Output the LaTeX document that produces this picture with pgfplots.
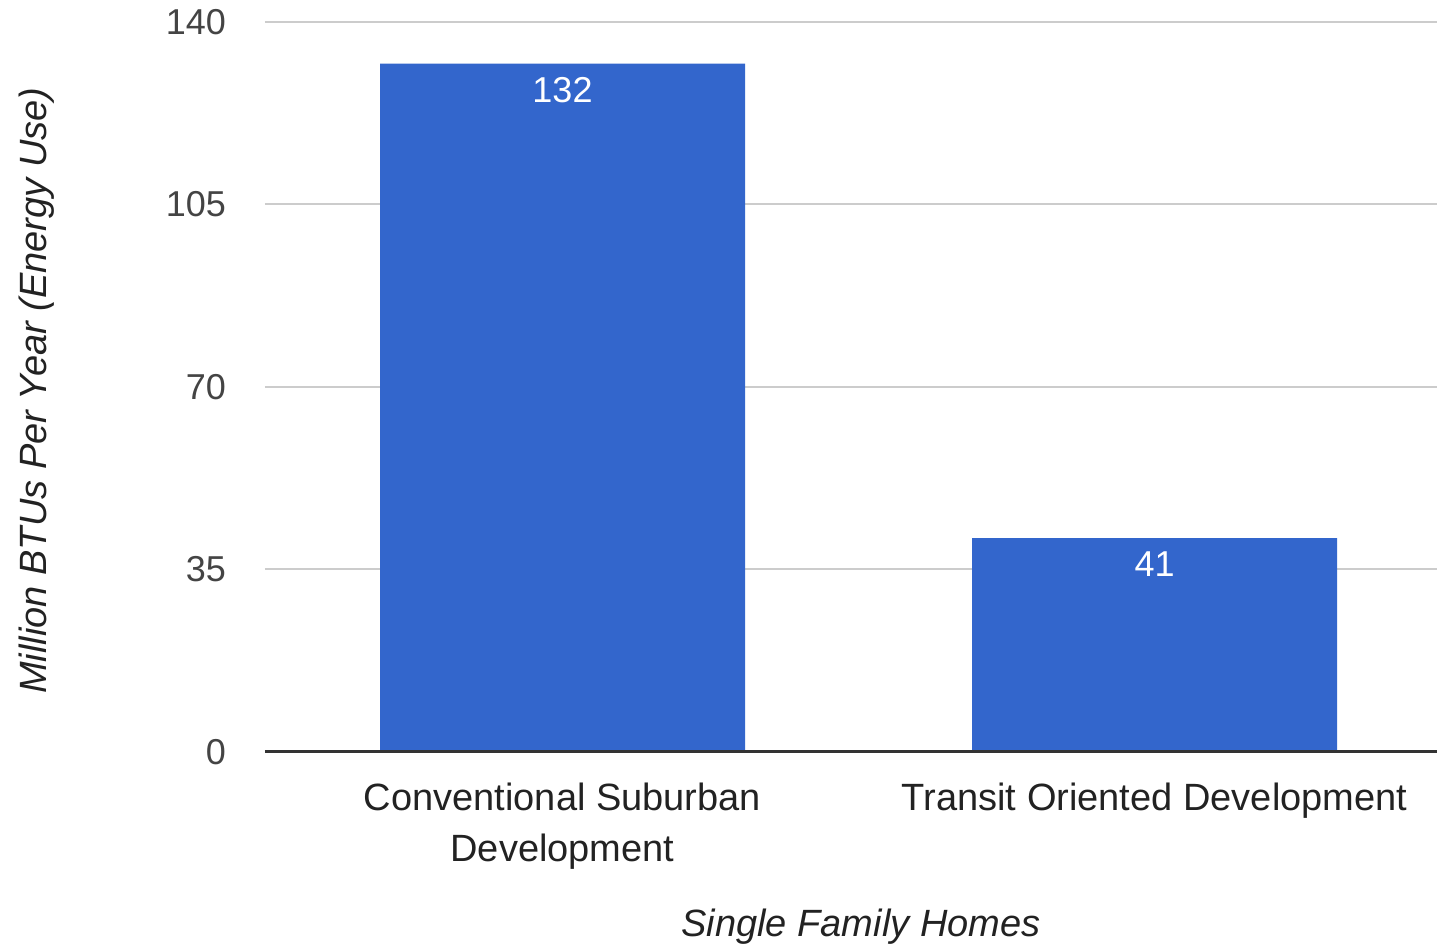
\documentclass[border=0pt]{standalone}
\usepackage{pgfplots}
\pgfplotsset{compat=1.18}
\usepackage{fontspec}
\setmainfont{Liberation Sans}

\definecolor{barblue}{HTML}{3366CC}
\definecolor{ticktext}{HTML}{444444}
\definecolor{labeltext}{HTML}{222222}
\definecolor{gridgray}{HTML}{CCCCCC}
\definecolor{axisline}{HTML}{333333}

\begin{document}
\begin{tikzpicture}
	% fix the page to the reference's proportions (1px = 0.5pt)
	\useasboundingbox (-132.5pt,-96.5pt) rectangle (586pt,376pt);
	\begin{axis}[
		at={(0,0)}, anchor=south west,
		scale only axis,
		width=586pt, height=365pt,
		xmin=-0.5025, xmax=1.477,
		ymin=0, ymax=140,
		ytick={0,35,70,105,140},
		xtick={0,1},
		xticklabels={{Conventional Suburban\\Development},{Transit Oriented Development}},
		xticklabel style={font=\fontsize{19}{25.5}\selectfont, text=labeltext, align=center, yshift=-12pt},
		yticklabel style={font=\fontsize{18}{20}\selectfont, text=ticktext, xshift=-16pt},
		/pgf/number format/assume math mode=true,
		major tick length=0pt,
		axis line style={draw=none},
		ymajorgrids,
		grid style={gridgray, line width=1pt},
		xlabel={\itshape Single Family Homes},
		xlabel style={font=\fontsize{19}{22}\selectfont, text=labeltext, at={(0.5,-87.5pt)}, anchor=center, xshift=5pt},
		ylabel={\itshape Million BTUs Per Year (Energy Use)},
		ylabel style={font=\fontsize{19}{22}\selectfont, text=labeltext, at={(-114pt,0.495)}, anchor=center, rotate=0},
		ybar, bar width=182.5pt,
		bar shift=0pt,
		nodes near coords,
		nodes near coords style={font=\fontsize{18}{20}\selectfont, text=white, anchor=center, yshift=-13pt},
		clip=false,
	]
		\addplot[fill=barblue, draw=none] coordinates {(0,132) (1,41)};
		\draw[axisline, line width=1.5pt] (axis cs:-0.5025,0) -- (axis cs:1.477,0);
	\end{axis}
\end{tikzpicture}
\end{document}
